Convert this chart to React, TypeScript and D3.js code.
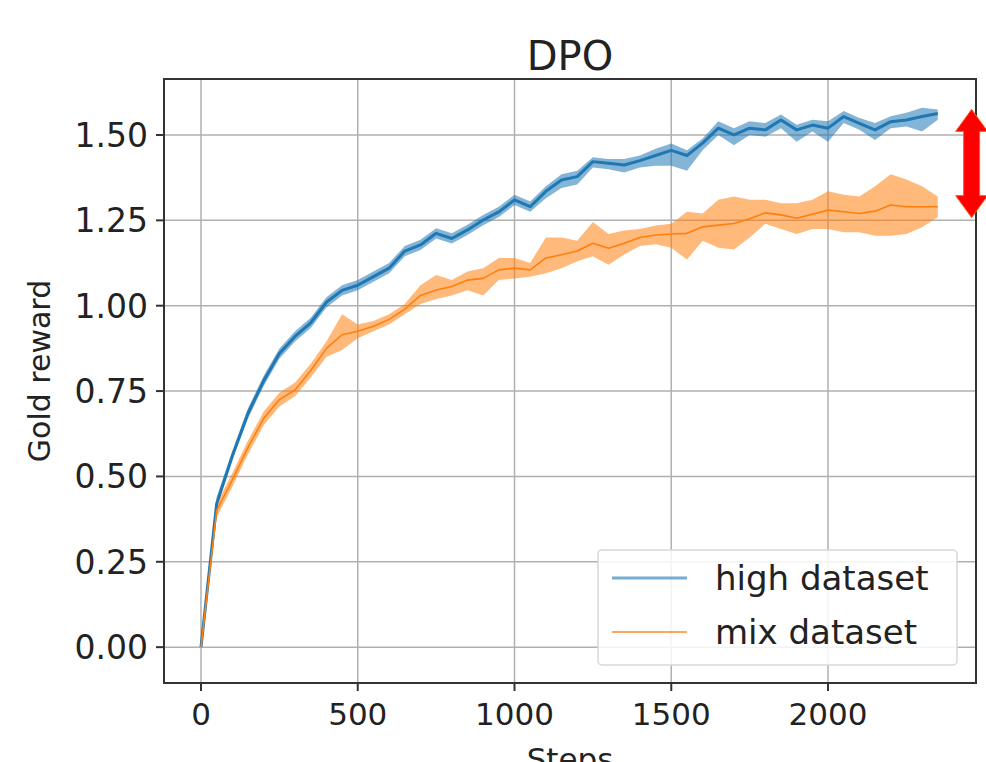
import React, { useEffect, useRef } from "react";
import * as d3 from "d3";

const steps = [
  0, 50, 100, 150, 200, 250, 300, 350, 400, 450, 500, 550, 600, 650, 700, 750,
  800, 850, 900, 950, 1000, 1050, 1100, 1150, 1200, 1250, 1300, 1350, 1400,
  1450, 1500, 1550, 1600, 1650, 1700, 1750, 1800, 1850, 1900, 1950, 2000, 2050,
  2100, 2150, 2200, 2250, 2300, 2350,
];

// high dataset: mean and band edges
const highMean = [
  0, 0.42, 0.56, 0.685, 0.78, 0.86, 0.91, 0.95, 1.01, 1.045, 1.06, 1.085, 1.11,
  1.16, 1.178, 1.212, 1.197, 1.222, 1.251, 1.275, 1.31, 1.29, 1.335, 1.368,
  1.378, 1.422, 1.417, 1.412, 1.425, 1.44, 1.455, 1.44, 1.476, 1.52, 1.5, 1.52,
  1.515, 1.544, 1.515, 1.529, 1.52, 1.554, 1.534, 1.515, 1.539, 1.544, 1.554,
  1.563,
];
const highLow = [
  0, 0.41, 0.55, 0.67, 0.765, 0.845, 0.895, 0.935, 0.995, 1.03, 1.045, 1.07,
  1.095, 1.145, 1.163, 1.197, 1.182, 1.207, 1.236, 1.26, 1.295, 1.275, 1.315,
  1.345, 1.355, 1.405, 1.4, 1.39, 1.405, 1.41, 1.41, 1.395, 1.455, 1.5, 1.47,
  1.5, 1.495, 1.52, 1.48, 1.51, 1.48, 1.535, 1.515, 1.485, 1.52, 1.525, 1.51,
  1.545,
];
const highHigh = [
  0, 0.44, 0.575, 0.7, 0.795, 0.875, 0.925, 0.965, 1.025, 1.06, 1.075, 1.1,
  1.125, 1.175, 1.193, 1.227, 1.212, 1.237, 1.266, 1.29, 1.325, 1.305, 1.35,
  1.385, 1.395, 1.435, 1.43, 1.43, 1.44, 1.46, 1.475, 1.455, 1.49, 1.54, 1.52,
  1.54, 1.535, 1.56, 1.53, 1.545, 1.54, 1.57, 1.55, 1.535, 1.555, 1.565, 1.58,
  1.575,
];

// mix dataset: mean and band edges
const mixMean = [
  0, 0.4, 0.49, 0.585, 0.67, 0.725, 0.753, 0.81, 0.875, 0.915, 0.925, 0.94,
  0.96, 0.99, 1.03, 1.046, 1.056, 1.075, 1.08, 1.105, 1.11, 1.105, 1.14, 1.149,
  1.16, 1.183, 1.168, 1.183, 1.2, 1.207, 1.21, 1.212, 1.231, 1.236, 1.241,
  1.255, 1.272, 1.266, 1.256, 1.268, 1.28, 1.275, 1.27, 1.277, 1.295, 1.29,
  1.29, 1.29,
];
const mixLow = [
  0, 0.38, 0.47, 0.565, 0.65, 0.705, 0.735, 0.79, 0.85, 0.87, 0.905, 0.925,
  0.945, 0.975, 1.005, 1.02, 1.03, 1.045, 1.03, 1.075, 1.08, 1.085, 1.095, 1.11,
  1.13, 1.145, 1.12, 1.15, 1.175, 1.18, 1.17, 1.135, 1.19, 1.17, 1.165, 1.2,
  1.24, 1.225, 1.21, 1.225, 1.225, 1.215, 1.215, 1.205, 1.205, 1.21, 1.23, 1.26,
];
const mixHigh = [
  0, 0.42, 0.51, 0.605, 0.69, 0.745, 0.775, 0.83, 0.895, 0.975, 0.945, 0.955,
  0.975, 1.005, 1.06, 1.09, 1.075, 1.1, 1.11, 1.14, 1.14, 1.125, 1.2, 1.2, 1.19,
  1.245, 1.21, 1.22, 1.225, 1.235, 1.24, 1.275, 1.27, 1.31, 1.32, 1.31, 1.31,
  1.3, 1.3, 1.31, 1.335, 1.325, 1.32, 1.35, 1.385, 1.37, 1.35, 1.32,
];

const xTicks = [0, 500, 1000, 1500, 2000];
const yTicks = [0, 0.25, 0.5, 0.75, 1.0, 1.25, 1.5];
const seriesNames = ["high dataset", "mix dataset"];

// red double arrow marking the gap at the end
const gapStep = 2458;
const gapTop = 1.575;
const gapBottom = 1.258;

const W = 986;
const H = 762;
const font = "DejaVu Sans, sans-serif";

const App = () => {
  const ref = useRef<SVGSVGElement>(null);

  useEffect(() => {
    const svg = d3.select(ref.current);
    svg.selectAll("*").remove();

    const left = 164, right = 976, top = 79, bottom = 683;
    const x = d3.scaleLinear().domain([-118, 2472]).range([left, right]);
    const y = d3.scaleLinear().domain([-0.105, 1.664]).range([bottom, top]);

    svg.append("rect").attr("width", W).attr("height", H).attr("fill", "#fff");

    svg
      .append("clipPath")
      .attr("id", "plotclip")
      .append("rect")
      .attr("x", left)
      .attr("y", top)
      .attr("width", right - left)
      .attr("height", bottom - top);

    // grid
    const grid = svg.append("g").attr("stroke", "#b0b0b0").attr("stroke-width", 1.5);
    xTicks.forEach((t) => {
      grid.append("line").attr("x1", x(t)).attr("x2", x(t)).attr("y1", top).attr("y2", bottom);
    });
    yTicks.forEach((t) => {
      grid.append("line").attr("x1", left).attr("x2", right).attr("y1", y(t)).attr("y2", y(t));
    });

    const series = [
      { mean: highMean, lo: highLow, hi: highHigh, color: "#1f77b4", width: 3 },
      { mean: mixMean, lo: mixLow, hi: mixHigh, color: "#ff7f0e", width: 1.6 },
    ];

    const plot = svg.append("g").attr("clip-path", "url(#plotclip)");
    series.forEach((s) => {
      const area = d3
        .area<number>()
        .x((d, i) => x(steps[i]))
        .y0((d, i) => y(s.lo[i]))
        .y1((d, i) => y(s.hi[i]));
      plot.append("path").attr("d", area(s.mean)).attr("fill", s.color).attr("opacity", 0.55);
    });
    series.forEach((s) => {
      const line = d3
        .line<number>()
        .x((d, i) => x(steps[i]))
        .y((d) => y(d));
      plot
        .append("path")
        .attr("d", line(s.mean))
        .attr("fill", "none")
        .attr("stroke", s.color)
        .attr("stroke-width", s.width)
        .attr("stroke-linejoin", "round");
    });

    // frame
    svg
      .append("rect")
      .attr("x", left)
      .attr("y", top)
      .attr("width", right - left)
      .attr("height", bottom - top)
      .attr("fill", "none")
      .attr("stroke", "#333")
      .attr("stroke-width", 2);

    // ticks
    const tk = svg.append("g").attr("stroke", "#333").attr("stroke-width", 2);
    xTicks.forEach((t) => {
      tk.append("line").attr("x1", x(t)).attr("x2", x(t)).attr("y1", bottom).attr("y2", bottom + 8);
    });
    yTicks.forEach((t) => {
      tk.append("line").attr("x1", left - 8).attr("x2", left).attr("y1", y(t)).attr("y2", y(t));
    });

    svg
      .append("g")
      .selectAll("text")
      .data(xTicks)
      .join("text")
      .attr("x", (d) => x(d))
      .attr("y", bottom + 42)
      .attr("text-anchor", "middle")
      .attr("font-family", font)
      .attr("font-size", 31)
      .attr("fill", "#222")
      .text((d) => String(d));

    svg
      .append("g")
      .selectAll("text")
      .data(yTicks)
      .join("text")
      .attr("x", left - 16)
      .attr("y", (d) => y(d) + 12)
      .attr("text-anchor", "end")
      .attr("font-family", font)
      .attr("font-size", 33)
      .attr("fill", "#222")
      .text((d) => d.toFixed(2));

    // title and axis labels
    svg
      .append("text")
      .attr("x", (left + right) / 2)
      .attr("y", 70)
      .attr("text-anchor", "middle")
      .attr("font-family", font)
      .attr("font-size", 40)
      .attr("fill", "#222")
      .text("DPO");

    svg
      .append("text")
      .attr("x", (left + right) / 2)
      .attr("y", 770)
      .attr("text-anchor", "middle")
      .attr("font-family", font)
      .attr("font-size", 31)
      .attr("fill", "#222")
      .text("Steps");

    svg
      .append("text")
      .attr("transform", `translate(50, ${(top + bottom) / 2 - 10}) rotate(-90)`)
      .attr("text-anchor", "middle")
      .attr("font-family", font)
      .attr("font-size", 30)
      .attr("fill", "#222")
      .text("Gold reward");

    // legend
    const lg = svg.append("g");
    lg.append("rect")
      .attr("x", 598)
      .attr("y", 550)
      .attr("width", 359)
      .attr("height", 115)
      .attr("rx", 4)
      .attr("fill", "#fff")
      .attr("fill-opacity", 0.85)
      .attr("stroke", "#d8d8d8")
      .attr("stroke-width", 1.5);
    series.forEach((s, i) => {
      const ly = 578 + i * 54;
      lg.append("line")
        .attr("x1", 612)
        .attr("x2", 687)
        .attr("y1", ly)
        .attr("y2", ly)
        .attr("stroke", s.color)
        .attr("stroke-width", s.width)
        .attr("opacity", i === 0 ? 0.6 : 0.9);
      lg.append("text")
        .attr("x", 715)
        .attr("y", ly + 12)
        .attr("font-family", font)
        .attr("font-size", 34)
        .attr("fill", "#222")
        .text(seriesNames[i]);
    });

    // gap arrow
    const ax = x(gapStep);
    const yt = y(gapTop);
    const yb = y(gapBottom);
    const hw = 16, hl = 22, sw = 8;
    const pts: [number, number][] = [
      [ax, yt],
      [ax + hw, yt + hl],
      [ax + sw, yt + hl],
      [ax + sw, yb - hl],
      [ax + hw, yb - hl],
      [ax, yb],
      [ax - hw, yb - hl],
      [ax - sw, yb - hl],
      [ax - sw, yt + hl],
      [ax - hw, yt + hl],
    ];
    svg
      .append("path")
      .attr("d", "M" + pts.map((p) => p.join(",")).join("L") + "Z")
      .attr("fill", "#ff0000")
      .attr("stroke", "#ff5a1a")
      .attr("stroke-width", 1);
  }, []);

  return (
    <div style={{ position: "absolute", left: 0, top: 0 }}>
      <svg ref={ref} width={W} height={H} style={{ display: "block" }} />
    </div>
  );
};

export default App;
